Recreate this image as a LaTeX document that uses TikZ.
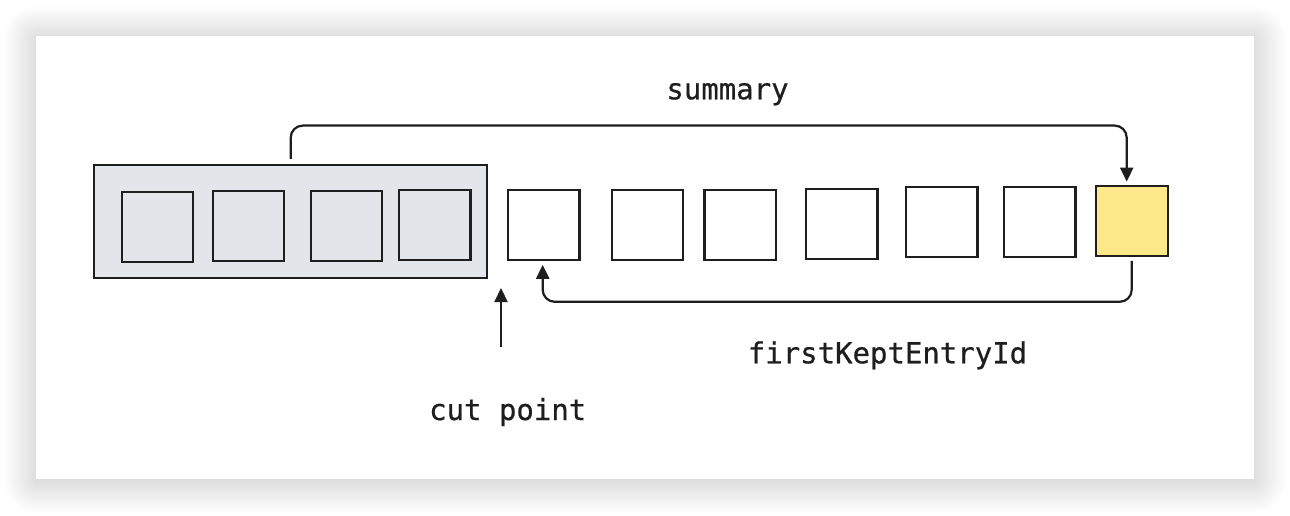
\documentclass[tikz,border=0pt]{standalone}
\usepackage{fontspec}
\setmonofont[FakeBold=0.6]{DejaVu Sans Mono}
\usetikzlibrary{arrows.meta}
\definecolor{ink}{HTML}{1E1E1E}
\definecolor{grpfill}{HTML}{E2E5EA}
\definecolor{yel}{HTML}{FDE98A}
\tikzset{
  cell/.style={draw=ink, line width=2.2pt, fill=#1, minimum width=71.5pt, minimum height=70pt, inner sep=0pt},
  cell/.default=white,
  conn/.style={draw=ink, line width=2.2pt, rounded corners=12pt, -{Triangle[length=14pt,width=13pt]}},
  lbl/.style={text=ink, font=\ttfamily\fontsize{29}{33}\selectfont, anchor=base, inner sep=0pt},
}
\begin{document}
\begin{tikzpicture}[x=1pt,y=-1pt]
\useasboundingbox (0,0) rectangle (1290,516);
\fill[white] (0,0) rectangle (1290,516);
% soft shadow round the card
\foreach \i in {1,...,32} {
  \fill[black, opacity=0.0045, rounded corners=\i pt] (36-\i, 38-\i) rectangle (1254+\i, 481+\i);
}
\node[draw=none, fill=white, minimum width=1218pt, minimum height=443pt, inner sep=0pt] (card) at (645,257.5) {};
% group of summarised entries
\node[draw=ink, line width=2.2pt, fill=grpfill, minimum width=392.7pt, minimum height=113pt, inner sep=0pt] (grp) at (290.7,221.5) {};
\node[cell=grpfill] (b1) at (157.5,226.7) {};
\node[cell=grpfill] (b2) at (248.5,225.7) {};
\node[cell=grpfill] (b3) at (346.5,225.8) {};
\node[cell=grpfill] (b4) at (434.7,224.7) {};
\node[cell] (b5) at (543.7,224.7) {};
\node[cell] (b6) at (647.5,224.7) {};
\node[cell] (b7) at (740.3,224.7) {};
\node[cell] (b8) at (841.7,223.8) {};
\node[cell] (b9) at (941.7,221.7) {};
\node[cell] (b10) at (1039.7,221.7) {};
\node[cell=yel, minimum width=72pt] (ybox) at (1131.7,220.7) {};
% connectors
\draw[conn] ([yshift=5pt]grp.north) -- ++(0,-33.3) -| ([xshift=-5pt,yshift=3pt]ybox.north);
\draw[conn] ([yshift=-4pt]ybox.south) -- ++(0,41) -| ([xshift=-1pt,yshift=-4pt]b5.south);
\coordinate (cutfrom) at (501,347);
\coordinate (cutto) at (501,288);
\draw[conn] (cutfrom) -- (cutto);
% labels
\node[lbl] (lsum) at (727.5,99.3) {summary};
\node[lbl] (lfirst) at (887.5,363.3) {firstKeptEntryId};
\node[lbl] (lcut) at (507.7,420) {cut point};
\end{tikzpicture}
\end{document}
